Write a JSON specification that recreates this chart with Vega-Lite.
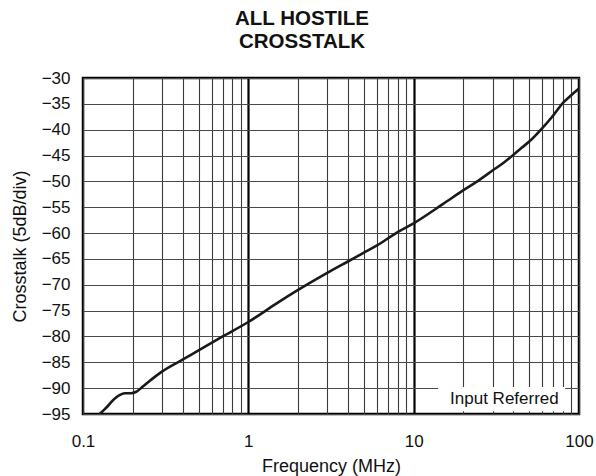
{
  "$schema": "https://vega.github.io/schema/vega-lite/v6.json",
  "autosize": {"type": "none"},
  "width": 496,
  "height": 336,
  "padding": {"left": 83, "top": 78, "right": 17, "bottom": 62},
  "background": "white",
  "config": {
    "font": "Liberation Sans",
    "view": {"stroke": "black", "strokeWidth": 2.5},
    "axis": {"labelFont": "Liberation Sans", "titleFont": "Liberation Sans", "labelColor": "#111", "titleColor": "#111", "labelOverlap": false, "labelFlush": false, "labelBound": false}
  },
  "title": {
    "text": ["ALL HOSTILE", "CROSSTALK"],
    "fontSize": 20.5,
    "fontWeight": "bold",
    "lineHeight": 22.5,
    "color": "#111",
    "anchor": "middle",
    "dx": -29,
    "offset": 17
  },
  "resolve": {"axis": {"x": "independent", "y": "independent"}},
  "data": {
    "values": [
      {"f": 0.126, "crosstalk": -95.0},
      {"f": 0.133, "crosstalk": -94.3},
      {"f": 0.14, "crosstalk": -93.6},
      {"f": 0.15, "crosstalk": -92.5},
      {"f": 0.16, "crosstalk": -91.7},
      {"f": 0.17, "crosstalk": -91.2},
      {"f": 0.18, "crosstalk": -91.0},
      {"f": 0.195, "crosstalk": -91.0},
      {"f": 0.21, "crosstalk": -90.7},
      {"f": 0.23, "crosstalk": -89.7},
      {"f": 0.26, "crosstalk": -88.3},
      {"f": 0.3, "crosstalk": -86.8},
      {"f": 0.4, "crosstalk": -84.5},
      {"f": 0.5, "crosstalk": -82.7},
      {"f": 0.7, "crosstalk": -80.0},
      {"f": 1, "crosstalk": -77.2},
      {"f": 1.5, "crosstalk": -73.5},
      {"f": 2, "crosstalk": -71.0},
      {"f": 3, "crosstalk": -67.7},
      {"f": 4, "crosstalk": -65.5},
      {"f": 5, "crosstalk": -63.8},
      {"f": 6, "crosstalk": -62.4},
      {"f": 8, "crosstalk": -59.8},
      {"f": 10, "crosstalk": -58.1},
      {"f": 15, "crosstalk": -54.4},
      {"f": 20, "crosstalk": -51.7},
      {"f": 25, "crosstalk": -49.7},
      {"f": 30, "crosstalk": -47.9},
      {"f": 35, "crosstalk": -46.4},
      {"f": 40, "crosstalk": -44.9},
      {"f": 45, "crosstalk": -43.5},
      {"f": 50, "crosstalk": -42.3},
      {"f": 60, "crosstalk": -39.7},
      {"f": 70, "crosstalk": -37.2},
      {"f": 80, "crosstalk": -34.8},
      {"f": 90, "crosstalk": -33.3},
      {"f": 100, "crosstalk": -32.05}
    ]
  },
  "layer": [
    {
      "mark": {"type": "line", "color": "#1a1a1a", "strokeWidth": 2.6, "interpolate": "monotone", "clip": true},
      "encoding": {
        "x": {
          "field": "f",
          "type": "quantitative",
          "scale": {"type": "log", "domain": [0.1, 100], "nice": false},
          "axis": {
            "title": "Frequency (MHz)",
            "titleFontSize": 18,
            "titleFontWeight": "normal",
            "titleY": 57,
            "titleBaseline": "alphabetic",
            "labelFontSize": 17,
            "labelPadding": 19,
            "labelFlush": false,
            "labelOverlap": false,
            "ticks": false,
            "domain": false,
            "values": [0.1, 0.2, 0.3, 0.4, 0.5, 0.6, 0.7, 0.8, 0.9, 1, 2, 3, 4, 5, 6, 7, 8, 9, 10, 20, 30, 40, 50, 60, 70, 80, 90, 100],
            "labelExpr": "datum.value == 0.1 ? '0.1' : datum.value == 1 ? '1' : datum.value == 10 ? '10' : datum.value == 100 ? '100' : ''",
            "grid": true,
            "gridColor": {"condition": {"test": "datum.value == 1 || datum.value == 10", "value": "#000000"}, "value": "#3a3a3a"},
            "gridWidth": {"condition": {"test": "datum.value == 1 || datum.value == 10", "value": 2.2}, "value": 1.1},
            "gridOpacity": 1
          }
        },
        "y": {
          "field": "crosstalk",
          "type": "quantitative",
          "scale": {"domain": [-95, -30], "nice": false, "zero": false},
          "axis": {
            "title": "Crosstalk (5dB/div)",
            "titleFontSize": 18,
            "titleFontWeight": "normal",
            "titleX": -58,
            "titleY": 168,
            "titleBaseline": "alphabetic",
            "labelFontSize": 17,
            "labelPadding": 13,
            "labelOverlap": false,
            "labelFlush": false,
            "ticks": false,
            "domain": false,
            "values": [-95, -90, -85, -80, -75, -70, -65, -60, -55, -50, -45, -40, -35, -30],
            "grid": true,
            "gridColor": "#4a4a4a",
            "gridWidth": 1.2,
            "gridOpacity": 1
          }
        }
      }
    },
    {
      "data": {"values": [{"label": "Input Referred"}]},
      "mark": {"type": "rect", "color": "white"},
      "encoding": {
        "x": {"datum": 14.05, "type": "quantitative", "axis": null},
        "x2": {"datum": 82.4},
        "y": {"datum": -89.78, "type": "quantitative", "axis": null},
        "y2": {"datum": -94.45}
      }
    },
    {
      "data": {"values": [{"label": "Input Referred"}]},
      "mark": {"type": "text", "fontSize": 17, "font": "Liberation Sans", "color": "#111", "align": "center", "baseline": "alphabetic"},
      "encoding": {
        "text": {"field": "label"},
        "x": {"datum": 35.4, "type": "quantitative", "axis": null},
        "y": {"datum": -93.1, "type": "quantitative", "axis": null}
      }
    }
  ]
}
